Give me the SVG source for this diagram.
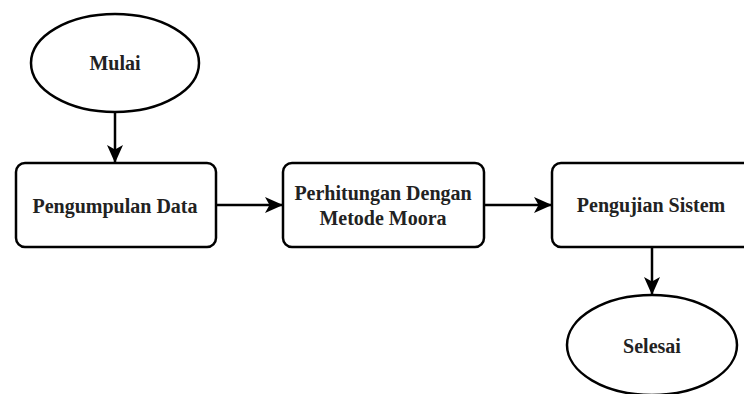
<svg xmlns="http://www.w3.org/2000/svg" width="744" height="394" viewBox="0 0 744 394">
<defs>
<marker id="arr" viewBox="0 0 18 18" refX="17" refY="9" markerWidth="18" markerHeight="18" markerUnits="userSpaceOnUse" orient="auto">
<path d="M0,1 L18,9 L0,17 L4.5,9 Z" fill="#000"/>
</marker>
</defs>
<style>
.n{fill:#fff;stroke:#000;stroke-width:2.5}
.t{font-family:'Liberation Serif','Times New Roman',serif;font-weight:bold;font-size:20px;fill:#222;text-anchor:middle}
.c{stroke:#000;stroke-width:2.5;fill:none;marker-end:url(#arr)}
</style>
<rect width="744" height="394" fill="#fff"/>
<g id="connectors">
<line class="c" x1="115" y1="113" x2="115" y2="162"/>
<line class="c" x1="216" y1="205" x2="282" y2="205"/>
<line class="c" x1="484" y1="205" x2="551" y2="205"/>
<line class="c" x1="652" y1="247" x2="652" y2="294"/>
</g>
<g id="mulai">
<ellipse class="n" cx="115" cy="63" rx="84" ry="49"/>
<text class="t" x="115" y="70">Mulai</text>
</g>
<g id="pengumpulan">
<rect class="n" x="16" y="163" width="200" height="84" rx="9"/>
<text class="t" x="115" y="213">Pengumpulan Data</text>
</g>
<g id="perhitungan">
<rect class="n" x="283" y="163" width="201" height="84" rx="9"/>
<text class="t" x="383" y="200">Perhitungan Dengan</text>
<text class="t" x="383" y="225">Metode Moora</text>
</g>
<g id="pengujian">
<rect class="n" x="552" y="163" width="200" height="84" rx="9"/>
<text class="t" x="651" y="212">Pengujian Sistem</text>
</g>
<g id="selesai">
<ellipse class="n" cx="652" cy="345" rx="85" ry="50"/>
<text class="t" x="652" y="353">Selesai</text>
</g>
</svg>
